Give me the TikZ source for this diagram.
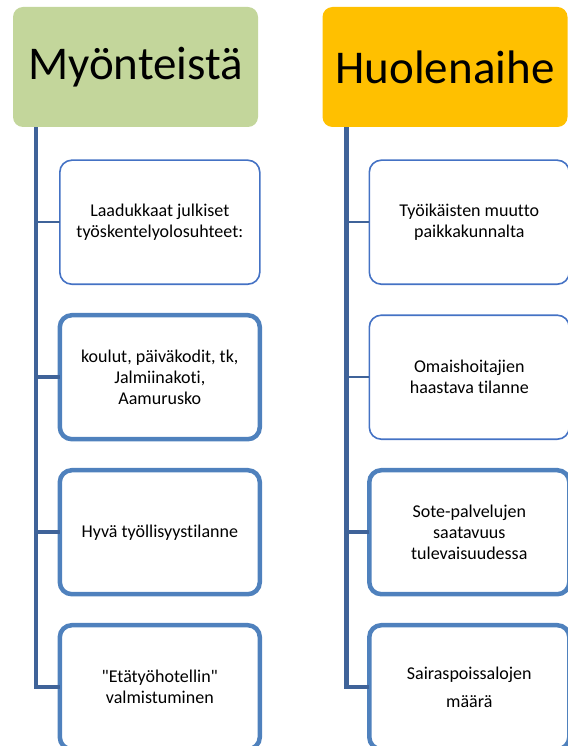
\documentclass[tikz,border=0pt]{standalone}
\usepackage{fontspec}
\setmainfont{Carlito}[Ligatures={TeXOff,CommonOff}]
\usetikzlibrary{positioning}

\definecolor{headgreen}{HTML}{C3D69B}
\definecolor{headorange}{HTML}{FFC000}
\definecolor{boxblue}{HTML}{4472C4}
\definecolor{boxblue2}{HTML}{4F81BD}
\definecolor{lineblue}{HTML}{3F6399}

\begin{document}
\begin{tikzpicture}[
    x=1pt, y=-1pt,
    node distance=31pt,
    myhead/.style={rectangle, rounded corners=10pt, minimum width=245pt, minimum height=120pt, inner sep=0pt, font=\fontsize{47}{50}\selectfont},
    mybox/.style={rectangle, draw=boxblue, line width=1.6pt, rounded corners=12pt, minimum width=200pt, minimum height=124pt, inner sep=0pt, outer sep=0pt, align=center, font=\fontsize{18}{21}\selectfont},
    mythickbox/.style={mybox, draw=boxblue2, line width=4.5pt},
    myline/.style={draw=lineblue, line width=1.8pt},
    mythickline/.style={draw=lineblue, line width=4.5pt}
]
    \useasboundingbox (0,0) rectangle (567,746);

    \node[myhead, fill=headgreen] (myon) at (135.5,67) {Myönteistä};
    \node[myhead, fill=headorange] (huol) at (445,67) {Huolenaihe};

    \node[mybox, below=33pt of myon.south west, anchor=north west, xshift=47pt] (myon1) {Laadukkaat julkiset\\työskentelyolosuhteet:};
    \node[mythickbox, below=of myon1] (myon2) {koulut, päiväkodit, tk,\\Jalmiinakoti,\\Aamurusko};
    \node[mythickbox, below=of myon2] (myon3) {Hyvä työllisyystilanne};
    \node[mythickbox, below=of myon3] (myon4) {"Etätyöhotellin"\\valmistuminen};

    \node[mybox, below=33pt of huol.south west, anchor=north west, xshift=47pt] (huol1) {Työikäisten muutto\\paikkakunnalta};
    \node[mybox, below=of huol1] (huol2) {Omaishoitajien\\haastava tilanne};
    \node[mythickbox, below=of huol2] (huol3) {Sote-palvelujen\\saatavuus\\tulevaisuudessa};
    \node[mythickbox, below=of huol3] (huol4) {Sairaspoissalojen\\[7pt]määrä};

    \coordinate (myontrunk) at ([xshift=23pt]myon.south west);
    \coordinate (huoltrunk) at ([xshift=24pt]huol.south west);

    \draw[mythickline] (myontrunk) |- (myon4.west);
    \draw[myline] (myontrunk |- myon1.west) -- (myon1.west);
    \draw[mythickline] (myontrunk |- myon2.west) -- (myon2.west);
    \draw[mythickline] (myontrunk |- myon3.west) -- (myon3.west);

    \draw[mythickline] (huoltrunk) |- (huol4.west);
    \draw[myline] (huoltrunk |- huol1.west) -- (huol1.west);
    \draw[myline] (huoltrunk |- huol2.west) -- (huol2.west);
    \draw[mythickline] (huoltrunk |- huol3.west) -- (huol3.west);

\end{tikzpicture}
\end{document}
